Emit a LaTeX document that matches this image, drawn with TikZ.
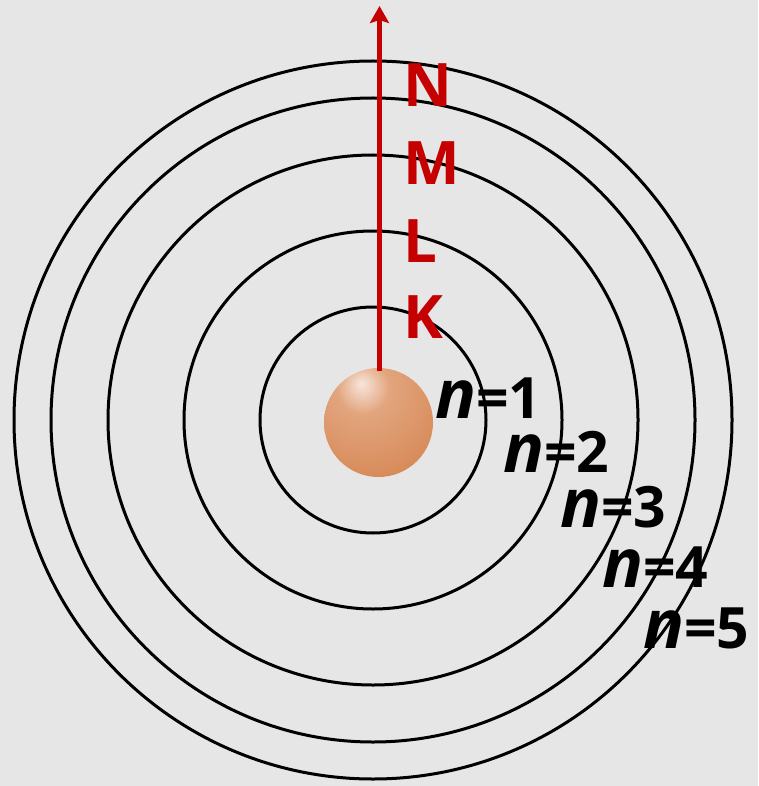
\documentclass[tikz,border=0pt]{standalone}
\usepackage{fontspec}
\setmainfont{Open Sans}
\usepackage{tikz}
\usetikzlibrary{arrows.meta,positioning}
\usepackage{xcolor}
\definecolor{paper}{HTML}{E6E6E6}
\definecolor{shell}{HTML}{C40000}
\definecolor{nucHi}{HTML}{F8E6DC}
\definecolor{nucMid}{HTML}{E2A57E}
\definecolor{nucBase}{HTML}{D98E5E}
\definecolor{nucRim}{HTML}{C8692C}

% nucleus: soft light spot up and to the left, darker orange rim
\pgfdeclareradialshading{nucleus}{\pgfpoint{-8bp}{18bp}}{%
  color(0bp)=(nucHi); color(12bp)=(nucMid); color(34bp)=(nucBase);
  color(64bp)=(nucRim); color(100bp)=(nucRim)}

\tikzset{
  orbit/.style={draw=black, line width=3pt},
  shellname/.style={text=shell, font=\fontsize{60}{60}\selectfont\bfseries, anchor=base west, inner sep=0pt},
  level/.style={font=\fontsize{57}{57}\selectfont\bfseries, anchor=base west, inner sep=0pt,
    text height=43pt, text depth=0pt}
}

\begin{document}
\begin{tikzpicture}[x=1pt,y=-1pt]
\fill[paper] (0,0) rectangle (758,786);
\useasboundingbox (0,0) rectangle (758,786);

% orbits n=1..5
\foreach \r in {113,189,265,322,359}
  \draw[orbit] (373,420) circle[radius=\r];

\node[circle, minimum size=109pt, inner sep=0pt, shading=nucleus] (nucleus) at (378.5,422.5) {};

% shell axis
\coordinate (axistop) at (379.5,6);
\draw[shell, line width=4.5pt, -{Stealth[length=17pt,width=19pt,inset=3pt]}]
  ([xshift=1pt,yshift=-3pt]nucleus.north) -- (axistop);

\node[shellname] (shellN) at (403,107) {N};
\node[shellname] (shellM) at (403,185) {M};
\node[shellname] (shellL) at (403,262) {L};
\node[shellname] (shellK) at (403,338) {K};

\node[level] (n1) at (435,418) {{\fontsize{68}{68}\selectfont\itshape n}=1};
\node[level] (n2) at (503,472) {{\fontsize{68}{68}\selectfont\itshape n}=2};
\node[level] (n3) at (560,527) {{\fontsize{68}{68}\selectfont\itshape n}=3};
\node[level] (n4) at (602,587) {{\fontsize{68}{68}\selectfont\itshape n}=4};
\node[level] (n5) at (643,648) {{\fontsize{68}{68}\selectfont\itshape n}=5};
\end{tikzpicture}
\end{document}
